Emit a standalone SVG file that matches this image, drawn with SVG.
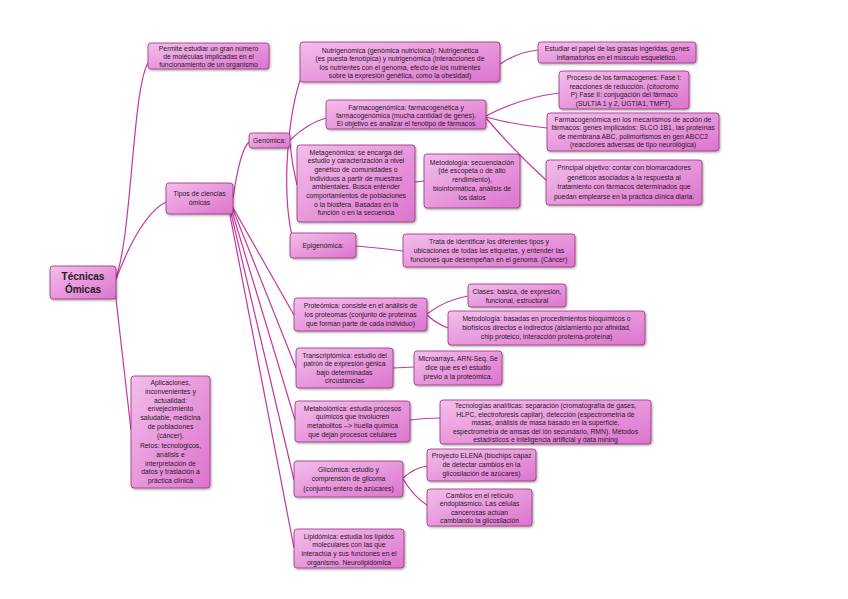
<svg xmlns="http://www.w3.org/2000/svg" width="848" height="599" viewBox="0 0 848 599">
<defs>
<linearGradient id="g" x1="0" y1="0" x2="1" y2="1">
<stop offset="0" stop-color="#f3bdeb"/>
<stop offset="1" stop-color="#dc74cd"/>
</linearGradient>
<filter id="sh" x="-10%" y="-10%" width="130%" height="140%">
<feDropShadow dx="1" dy="1.2" stdDeviation="0.8" flood-color="#000" flood-opacity="0.35"/>
</filter>
</defs>
<style>
rect.n{fill:url(#g);stroke:#99307f;stroke-width:0.8;filter:url(#sh)}
text{font-family:"Liberation Sans",Arial,sans-serif;font-size:6.8px;fill:#2a1a26;text-anchor:middle}
text.big{font-size:10px;font-weight:bold}
#connectors path{fill:none;stroke:#c2389f;stroke-width:1.2}
</style>
<rect width="848" height="599" fill="#ffffff"/>
<g id="connectors">
<path d="M115,280 C132,240 132,90 148,63"/>
<path d="M115,282 Q140,215 166,202"/>
<path d="M115,290 Q125,380 131,430"/>
<path d="M233,198 Q240,150 249,142"/>
<path d="M232,206 L294,315"/>
<path d="M232,207 L296,368"/>
<path d="M231,208 L295,420"/>
<path d="M230,209 L294,480"/>
<path d="M229,210 L294,548"/>
<path d="M289,137 Q293,100 301,78"/>
<path d="M290,140 Q308,123 326,118"/>
<path d="M290,144 Q292,165 297,185"/>
<path d="M288,148 Q284,200 292,236"/>
<path d="M500,64 Q518,52 538,50"/>
<path d="M486,116 Q520,98 559,93"/>
<path d="M486,117 Q515,125 547,128"/>
<path d="M486,118 Q515,152 546,180"/>
<path d="M415,182 L424,181"/>
<path d="M356,246 Q380,248 403,251"/>
<path d="M427,314 Q445,300 468,296"/>
<path d="M427,315 Q437,324 448,328"/>
<path d="M393,368 L414,367"/>
<path d="M410,420 Q425,418 440,418"/>
<path d="M403,478 Q414,468 427,466"/>
<path d="M403,479 Q414,497 427,505"/>
</g>
<g id="tecnicas">
<rect class="n" x="50" y="266" width="66" height="33" rx="3"/>
<text class="big" x="83" y="280">Técnicas</text>
<text class="big" x="83" y="293">Ómicas</text>
</g>
<g id="permite">
<rect class="n" x="148" y="43" width="121" height="26" rx="3"/>
<text x="208.5" y="50.5">Permite estudiar un gran número</text>
<text x="208.5" y="58.5">de moléculas implicadas en el</text>
<text x="208.5" y="66.5">funcionamiento de un organismo</text>
</g>
<g id="tipos">
<rect class="n" x="166" y="183" width="67" height="31" rx="3"/>
<text x="199.5" y="196">Tipos de ciencias</text>
<text x="199.5" y="205">ómicas</text>
</g>
<g id="aplicaciones">
<rect class="n" x="131" y="376" width="79" height="112" rx="3"/>
<text x="170.5" y="385">Aplicaciones,</text>
<text x="170.5" y="393.8">inconvenientes y</text>
<text x="170.5" y="402.6">actualidad:</text>
<text x="170.5" y="411.4">envejecimiento</text>
<text x="170.5" y="420.2">saludable, medicina</text>
<text x="170.5" y="429">de poblaciones</text>
<text x="170.5" y="437.8">(cáncer).</text>
<text x="170.5" y="448">Retos: tecnológicos,</text>
<text x="170.5" y="456.8">análisis e</text>
<text x="170.5" y="465.6">interpretación de</text>
<text x="170.5" y="474.4">datos y traslación a</text>
<text x="170.5" y="483.2">práctica clínica</text>
</g>
<g id="genomica">
<rect class="n" x="249" y="133" width="41" height="15" rx="3"/>
<text x="269.5" y="143">Genómica:</text>
</g>
<g id="nutrigenomica">
<rect class="n" x="300" y="42" width="200" height="40" rx="3"/>
<text x="400" y="52.5">Nutrigenómica (genómica nutricional): Nutrigenética</text>
<text x="400" y="61">(es puesta fenotípica) y nutrigenómica (interacciones de</text>
<text x="400" y="69.5">los nutrientes con el genoma, efecto de los nutrientes</text>
<text x="400" y="78">sobre la expresión genética, como la obesidad)</text>
</g>
<g id="estudiar">
<rect class="n" x="538" y="42" width="158" height="21" rx="3"/>
<text x="617" y="51">Estudiar el papel de las grasas ingeridas, genes</text>
<text x="617" y="59.5">inflamatorios en el músculo esquelético.</text>
</g>
<g id="farmacogenomica">
<rect class="n" x="326" y="100" width="160" height="29" rx="3"/>
<text x="406" y="110">Farmacogenómica: farmacogenética y</text>
<text x="406" y="118">farmacogenómica (mucha cantidad de genes).</text>
<text x="406" y="126">El objetivo es analizar el fenotipo de fármacos</text>
</g>
<g id="proceso">
<rect class="n" x="559" y="71" width="130" height="38" rx="3"/>
<text x="624" y="80">Proceso de los farmacogenes: Fase I:</text>
<text x="624" y="88.5">reacciones de reducción. (citocromo</text>
<text x="624" y="97">P) Fase II: conjugación del fármaco</text>
<text x="624" y="105.5">(SULTIA 1 y 2, UGTIA1, TMPT).</text>
</g>
<g id="mecanismos">
<rect class="n" x="547" y="113" width="172" height="38" rx="3"/>
<text x="633" y="121.5">Farmacogenómica en los mecanismos de acción de</text>
<text x="633" y="130">fármacos: genes implicados: SLCO 1B1, las proteínas</text>
<text x="633" y="138.5">de membrana ABC, polimorfismos en gen ABCC2</text>
<text x="633" y="147">(reacciones adversas de tipo neurológica)</text>
</g>
<g id="principal">
<rect class="n" x="546" y="160" width="156" height="45" rx="3"/>
<text x="624" y="170">Principal objetivo: contar con biomarcadores</text>
<text x="624" y="179.5">genéticos asociados a la respuesta al</text>
<text x="624" y="189">tratamiento con fármacos determinados que</text>
<text x="624" y="198.5">puedan emplearse en la práctica clínica diaria.</text>
</g>
<g id="metagenomica">
<rect class="n" x="297" y="145" width="118" height="77" rx="3"/>
<text x="356" y="154.5">Metagenómica: se encarga del</text>
<text x="356" y="163.2">estudio y caracterización a nivel</text>
<text x="356" y="171.9">genético de comunidades o</text>
<text x="356" y="180.6">individuos a partir de muestras</text>
<text x="356" y="189.3">ambientales. Busca entender</text>
<text x="356" y="198">comportamientos de poblaciones</text>
<text x="356" y="206.7">o la biosfera. Basadas en la</text>
<text x="356" y="215.4">función o en la secuencia</text>
</g>
<g id="metodologia-sec">
<rect class="n" x="424" y="154" width="96" height="54" rx="3"/>
<text x="472" y="164.5">Metodología: secuenciación</text>
<text x="472" y="173.3">(de escopeta o de alto</text>
<text x="472" y="182.1">rendimiento),</text>
<text x="472" y="190.9">bioinformática, análisis de</text>
<text x="472" y="199.7">los datos</text>
</g>
<g id="epigenomica">
<rect class="n" x="290" y="233" width="66" height="25" rx="3"/>
<text x="323" y="248">Epigenómica:</text>
</g>
<g id="trata">
<rect class="n" x="403" y="234" width="172" height="33" rx="3"/>
<text x="489" y="244">Trata de identificar los diferentes tipos y</text>
<text x="489" y="253">ubicaciones de todas las etiquetas, y entender las</text>
<text x="489" y="262">funciones que desempeñan en el genoma. (Cáncer)</text>
</g>
<g id="proteomica">
<rect class="n" x="294" y="298" width="133" height="33" rx="3"/>
<text x="360.5" y="307.5">Proteómica: consiste en el análisis de</text>
<text x="360.5" y="316.5">los proteomas (conjunto de proteínas</text>
<text x="360.5" y="325.5">que forman parte de cada individuo)</text>
</g>
<g id="clases">
<rect class="n" x="468" y="284" width="98" height="23" rx="3"/>
<text x="517" y="293.5">Clases: básica, de expresión,</text>
<text x="517" y="302.5">funcional, estructural</text>
</g>
<g id="metodologia-prot">
<rect class="n" x="448" y="311" width="197" height="34" rx="3"/>
<text x="546.5" y="321">Metodología: basadas en procedimientos bioquímicos o</text>
<text x="546.5" y="330">biofísicos directos e indirectos (aislamiento por afinidad,</text>
<text x="546.5" y="339">chip proteico, interacción proteína-proteína)</text>
</g>
<g id="transcriptomica">
<rect class="n" x="296" y="348" width="97" height="40" rx="3"/>
<text x="344.5" y="357.5">Transcriptómica: estudio del</text>
<text x="344.5" y="366">patrón de expresión génica</text>
<text x="344.5" y="374.5">bajo determinadas</text>
<text x="344.5" y="383">circustancias</text>
</g>
<g id="microarrays">
<rect class="n" x="414" y="351" width="88" height="34" rx="3"/>
<text x="458" y="361">Microarrays, ARN-Seq. Se</text>
<text x="458" y="370">dice que es el estudio</text>
<text x="458" y="379">previo a la proteómica.</text>
</g>
<g id="metabolomica">
<rect class="n" x="295" y="401" width="115" height="41" rx="3"/>
<text x="352.5" y="410.5">Metabolómica: estudia procesos</text>
<text x="352.5" y="419.3">químicos que involucren</text>
<text x="352.5" y="428.1">metabolitos --&gt; huella química</text>
<text x="352.5" y="436.9">que dejan procesos celulares</text>
</g>
<g id="tecnologias">
<rect class="n" x="440" y="400" width="211" height="44" rx="3"/>
<text x="545.5" y="408">Tecnologías analíticas: separación (cromatografía de gases,</text>
<text x="545.5" y="416.5">HLPC, electroforesis capilar), detección (espectrometría de</text>
<text x="545.5" y="425">masas, análisis de masa basado en la superficie,</text>
<text x="545.5" y="433.5">espectrometría de amsas del ión secundario, RMN). Métodos</text>
<text x="545.5" y="442">estadísticos e inteligencia artificial y data mining</text>
</g>
<g id="glicomica">
<rect class="n" x="294" y="461" width="109" height="36" rx="3"/>
<text x="348.5" y="471.5">Glicómica: estudio y</text>
<text x="348.5" y="481">comprensión de glicoma</text>
<text x="348.5" y="490.5">(conjunto entero de azúcares)</text>
</g>
<g id="elena">
<rect class="n" x="427" y="449" width="109" height="32" rx="3"/>
<text x="481.5" y="458">Proyecto ELENA (biochips capaz</text>
<text x="481.5" y="467">de detectar cambios en la</text>
<text x="481.5" y="476">glicosilación de azúcares)</text>
</g>
<g id="cambios">
<rect class="n" x="427" y="489" width="105" height="37" rx="3"/>
<text x="479.5" y="497.5">Cambios en el retículo</text>
<text x="479.5" y="506">endoplásmico. Las células</text>
<text x="479.5" y="514.5">cancerosas actúan</text>
<text x="479.5" y="523">cambiando la glicosilación</text>
</g>
<g id="lipidomica">
<rect class="n" x="294" y="529" width="110" height="39" rx="3"/>
<text x="349" y="538.5">Lipidómica: estudia los lípidos</text>
<text x="349" y="547.2">moleculares con las que</text>
<text x="349" y="555.9">interactúa y sus funciones en el</text>
<text x="349" y="564.6">organismo. Neurolipidómica</text>
</g>
</svg>
